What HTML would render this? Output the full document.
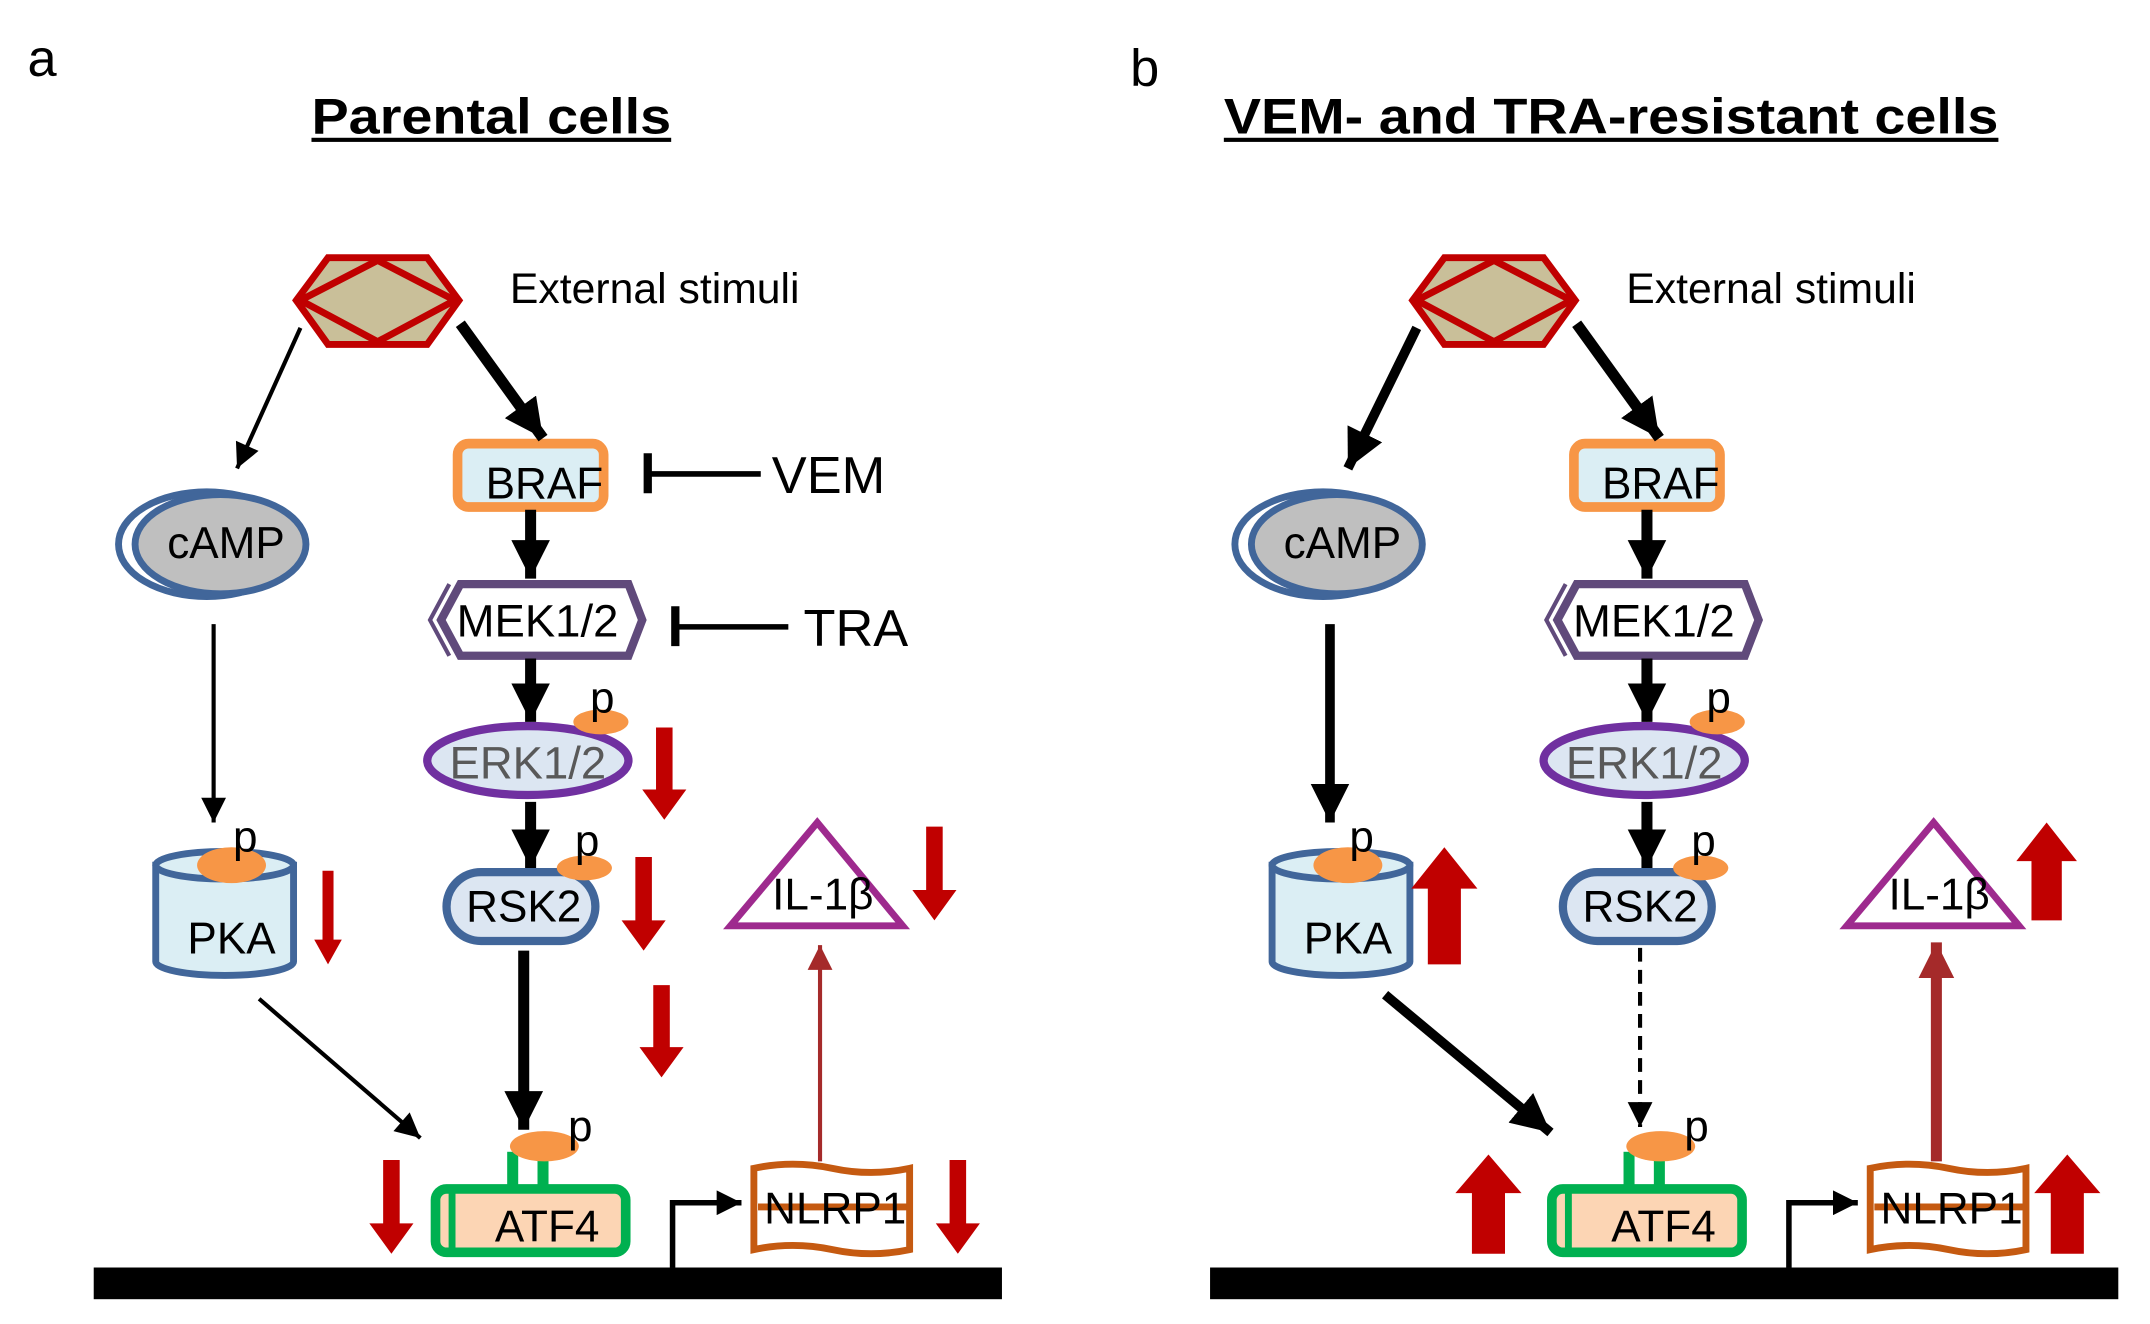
<!DOCTYPE html>
<html><head><meta charset="utf-8"><style>html,body{margin:0;padding:0;background:#fff}svg{display:block}</style></head>
<body>
<svg width="2150" height="1324" viewBox="0 0 1560 961" preserveAspectRatio="none" xmlns="http://www.w3.org/2000/svg" font-family="Liberation Sans, Arial, sans-serif">
<defs>
<marker id="hs" markerUnits="userSpaceOnUse" viewBox="0 0 10 10" refX="10" refY="5" markerWidth="20" markerHeight="18" orient="auto"><path d="M0,0L10,5L0,10z" fill="#000"/></marker>
<marker id="hb" markerUnits="userSpaceOnUse" viewBox="0 0 10 10" refX="10" refY="5" markerWidth="28" markerHeight="28" orient="auto"><path d="M0,0L10,5L0,10z" fill="#000"/></marker>
<marker id="hr" markerUnits="userSpaceOnUse" viewBox="0 0 10 10" refX="10" refY="5" markerWidth="20" markerHeight="18" orient="auto"><path d="M0,0L10,5L0,10z" fill="#a52a2a"/></marker>
<marker id="hrb" markerUnits="userSpaceOnUse" viewBox="0 0 10 10" refX="10" refY="5" markerWidth="26" markerHeight="26" orient="auto"><path d="M0,0L10,5L0,10z" fill="#a52a2a"/></marker>
<g id="nodes">
<polygon points="215,218 238,187 310,187 333,218 310,250 238,250" fill="#c9bf99" stroke="#c00000" stroke-width="5"/>
<polygon points="218,218 274,189 330,218 274,248" fill="none" stroke="#c00000" stroke-width="5"/>
<text x="370" y="220" font-size="31">External stimuli</text>
<rect x="332" y="322" width="106" height="46" rx="8" fill="#dbeef4" stroke="#f79646" stroke-width="7"/>
<text x="395" y="362" font-size="32" text-anchor="middle">BRAF</text>
<ellipse cx="150" cy="395" rx="64" ry="38" fill="none" stroke="#41669a" stroke-width="5"/>
<ellipse cx="160" cy="395" rx="62" ry="36" fill="#bfbfbf" stroke="#41669a" stroke-width="5"/>
<text x="164" y="405" font-size="32" text-anchor="middle">cAMP</text>
<polyline points="326,424 312,450 326,476" fill="none" stroke="#604a7b" stroke-width="3"/>
<polygon points="320,450 334,424 456,424 466,450 456,476 334,476" fill="#fff" stroke="#604a7b" stroke-width="6"/>
<text x="390" y="462" font-size="33" text-anchor="middle">MEK1/2</text>
<ellipse cx="383" cy="552" rx="73" ry="25" fill="#dce6f2" stroke="#7030a0" stroke-width="6"/>
<text x="383" y="565" font-size="33" text-anchor="middle" fill="#595959">ERK1/2</text>
<ellipse cx="436" cy="524" rx="20" ry="9" fill="#f79646"/>
<text x="437" y="517" font-size="32" text-anchor="middle">p</text>
<rect x="324" y="633" width="108" height="50" rx="25" fill="#dce6f2" stroke="#41669a" stroke-width="6"/>
<text x="380" y="669" font-size="32" text-anchor="middle">RSK2</text>
<ellipse cx="424" cy="630" rx="20" ry="9" fill="#f79646"/>
<text x="426" y="621" font-size="32" text-anchor="middle">p</text>
<path d="M113,628 L113,698 A50,10 0 0 0 213,698 L213,628 Z" fill="#dbeef4" stroke="#41669a" stroke-width="5"/>
<ellipse cx="163" cy="628" rx="50" ry="10" fill="#dbeef4" stroke="#41669a" stroke-width="5"/>
<ellipse cx="168" cy="628" rx="25" ry="13" fill="#f79646"/>
<text x="178" y="618" font-size="32" text-anchor="middle">p</text>
<text x="168" y="692" font-size="32" text-anchor="middle">PKA</text>
<rect x="368" y="836" width="8" height="28" fill="#00b050"/>
<rect x="390" y="836" width="8" height="28" fill="#00b050"/>
<rect x="316" y="863" width="138" height="46" rx="8" fill="#fcd5b4" stroke="#00b050" stroke-width="7"/>
<line x1="328" y1="866" x2="328" y2="906" stroke="#00b050" stroke-width="5"/>
<text x="397" y="901" font-size="32" text-anchor="middle">ATF4</text>
<ellipse cx="395" cy="832" rx="25" ry="11" fill="#f79646"/>
<text x="421" y="828" font-size="32" text-anchor="middle">p</text>
<path d="M547,848 Q575,842 604,848 Q632,854 660,848 L660,907 Q632,913 604,907 Q575,901 547,907 Z" fill="#fff" stroke="#c55a11" stroke-width="5"/>
<line x1="550" y1="876" x2="658" y2="876" stroke="#c55a11" stroke-width="5"/>
<text x="606" y="888" font-size="32" text-anchor="middle">NLRP1</text>
<polygon points="530,672 655,672 593,597" fill="#fff" stroke="#9e2a8e" stroke-width="5"/>
<text x="597" y="660" font-size="32" text-anchor="middle">IL-1β</text>
<rect x="68" y="920" width="659" height="23" fill="#000"/>
<polyline points="488,920 488,873 538,873" fill="none" stroke="#000" stroke-width="4" marker-end="url(#hs)"/>
<line x1="385" y1="370" x2="385" y2="420" stroke="#000" stroke-width="8" marker-end="url(#hb)"/>
<line x1="385" y1="478" x2="385" y2="524" stroke="#000" stroke-width="8" marker-end="url(#hb)"/>
<line x1="385" y1="582" x2="385" y2="630" stroke="#000" stroke-width="8" marker-end="url(#hb)"/>
<line x1="334" y1="235" x2="394" y2="318" stroke="#000" stroke-width="8" marker-end="url(#hb)"/>
</g>
</defs>

<text x="20" y="55" font-size="38">a</text>
<text x="226" y="97" font-size="36" font-weight="bold" textLength="261" lengthAdjust="spacingAndGlyphs">Parental cells</text>
<rect x="226" y="100" width="261" height="3" fill="#000"/>
<use href="#nodes"/>
<line x1="218" y1="238" x2="172" y2="340" stroke="#000" stroke-width="3" marker-end="url(#hs)"/>
<line x1="155" y1="453" x2="155" y2="597" stroke="#000" stroke-width="3" marker-end="url(#hs)"/>
<line x1="188" y1="725" x2="305" y2="826" stroke="#000" stroke-width="3" marker-end="url(#hs)"/>
<line x1="380" y1="690" x2="380" y2="820" stroke="#000" stroke-width="8" marker-end="url(#hb)"/>
<line x1="595" y1="843" x2="595" y2="686" stroke="#a52a2a" stroke-width="3" marker-end="url(#hr)"/>
<line x1="470" y1="344" x2="552" y2="344" stroke="#000" stroke-width="4"/>
<line x1="470" y1="329" x2="470" y2="358" stroke="#000" stroke-width="6"/>
<text x="560" y="358" font-size="38">VEM</text>
<line x1="490" y1="455" x2="572" y2="455" stroke="#000" stroke-width="4"/>
<line x1="490" y1="440" x2="490" y2="469" stroke="#000" stroke-width="6"/>
<text x="583" y="469" font-size="38">TRA</text>
<g fill="#c00000">
<polygon points="476,528 488,528 488,573 498,573 482,595 466,573 476,573"/>
<polygon points="461,622 473,622 473,668 483,668 467,690 451,668 461,668"/>
<polygon points="474,715 486,715 486,760 496,760 480,782 464,760 474,760"/>
<polygon points="234,632 242,632 242,682 248,682 238,700 228,682 234,682"/>
<polygon points="278,842 290,842 290,888 300,888 284,910 268,888 278,888"/>
<polygon points="672,600 684,600 684,646 694,646 678,668 662,646 672,646"/>
<polygon points="689,842 701,842 701,888 711,888 695,910 679,888 689,888"/>
</g>

<text x="820" y="62" font-size="38">b</text>
<text x="888" y="97" font-size="36" font-weight="bold" textLength="562" lengthAdjust="spacingAndGlyphs">VEM- and TRA-resistant cells</text>
<rect x="888" y="100" width="562" height="3" fill="#000"/>
<g transform="translate(810,0)">
<use href="#nodes"/>
<line x1="218" y1="238" x2="168" y2="340" stroke="#000" stroke-width="7" marker-end="url(#hb)"/>
<line x1="155" y1="453" x2="155" y2="597" stroke="#000" stroke-width="7" marker-end="url(#hb)"/>
<line x1="195" y1="722" x2="315" y2="822" stroke="#000" stroke-width="7" marker-end="url(#hb)"/>
<line x1="380" y1="688" x2="380" y2="818" stroke="#000" stroke-width="3" stroke-dasharray="10,6" marker-end="url(#hs)"/>
<line x1="595" y1="843" x2="595" y2="684" stroke="#a52a2a" stroke-width="8" marker-end="url(#hrb)"/>
</g>
<g fill="#c00000">
<polygon points="1048,615 1072,645 1060,645 1060,700 1036,700 1036,645 1024,645"/>
<polygon points="1485,597 1507,625 1496,625 1496,668 1474,668 1474,625 1463,625"/>
<polygon points="1080,838 1104,866 1092,866 1092,910 1068,910 1068,866 1056,866"/>
<polygon points="1500,838 1524,866 1512,866 1512,910 1488,910 1488,866 1476,866"/>
</g>
</svg>
</body></html>
